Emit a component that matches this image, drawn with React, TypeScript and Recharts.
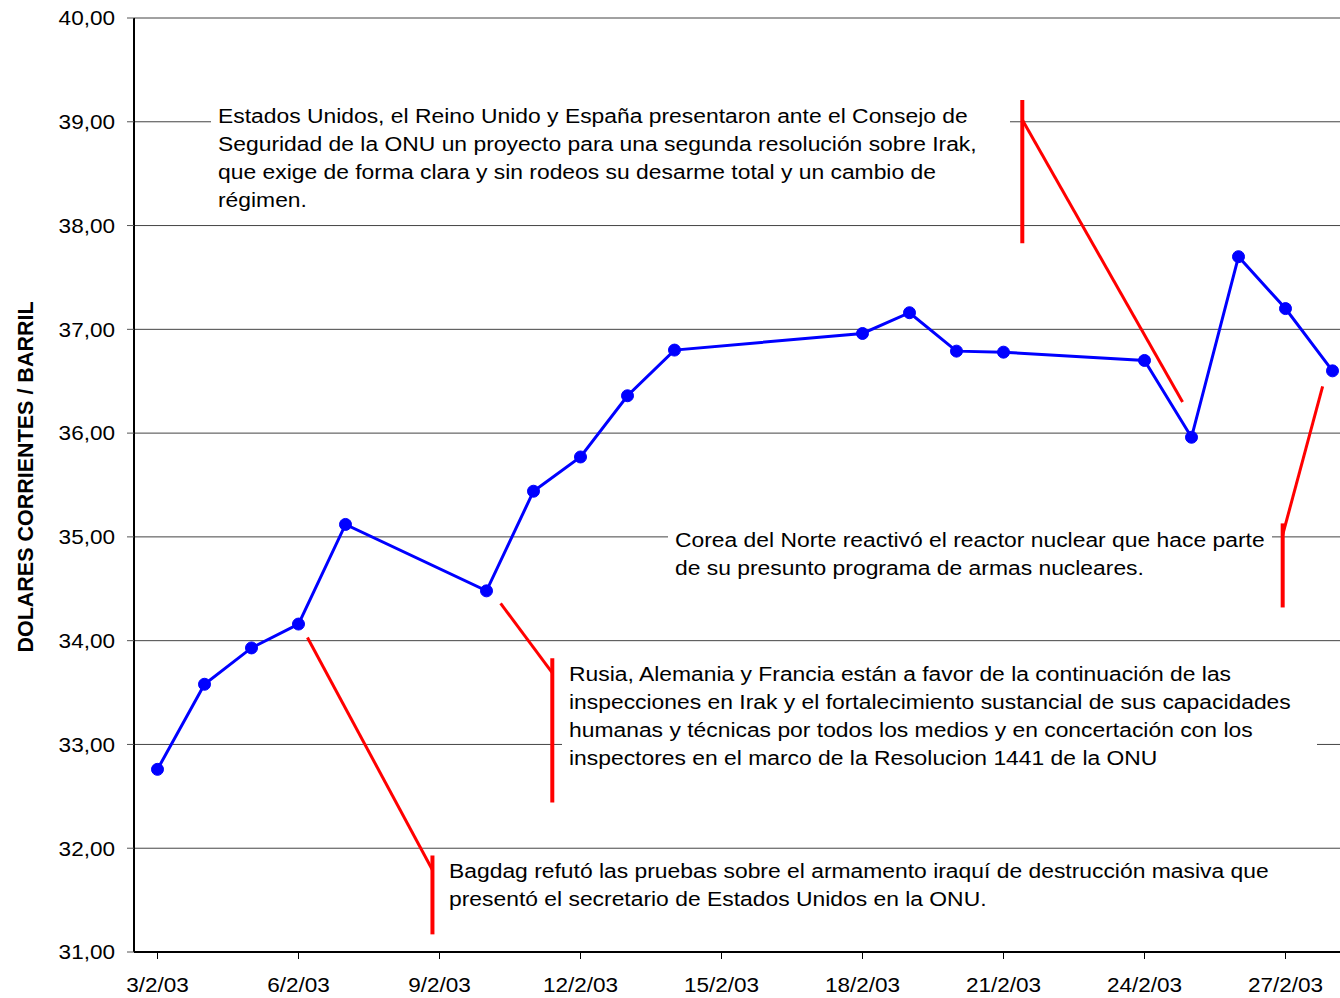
import React from 'react';
import { LineChart, Line, XAxis, YAxis, CartesianGrid, ReferenceLine } from 'recharts';

const days = [3, 4, 5, 6, 7, 10, 11, 12, 13, 14, 18, 19, 20, 21, 24, 25, 26, 27, 28];
const prices = [32.76, 33.58, 33.93, 34.16, 35.12, 34.48, 35.44, 35.77, 36.36, 36.8, 36.96, 37.16, 36.79, 36.78, 36.7, 35.96, 37.7, 37.2, 36.6];
const yTicks = [31, 32, 33, 34, 35, 36, 37, 38, 39, 40];
const xTicks = [3, 6, 9, 12, 15, 18, 21, 24, 27];
const yAxisTitle = 'DOLARES CORRIENTES / BARRIL';

const noteEEUU = [
  'Estados Unidos, el Reino Unido y España presentaron ante el Consejo de',
  'Seguridad de la ONU un proyecto para una segunda resolución sobre Irak,',
  'que exige de forma clara y sin rodeos su desarme total y un cambio de',
  'régimen.',
];
const noteCorea = [
  'Corea del Norte reactivó el reactor nuclear que hace parte',
  'de su presunto programa de armas nucleares.',
];
const noteRusia = [
  'Rusia, Alemania y Francia están a favor de la continuación de las',
  'inspecciones en Irak y el fortalecimiento sustancial de sus capacidades',
  'humanas y técnicas por todos los medios y en concertación con los',
  'inspectores en el marco de la Resolucion 1441 de la ONU',
];
const noteBagdag = [
  'Bagdag refutó las pruebas sobre el armamento iraquí de destrucción masiva que',
  'presentó el secretario de Estados Unidos en la ONU.',
];

// callout segments in data coordinates [x1, y1, x2, y2]
const calloutThick = [
  [8.85, 31.93, 8.85, 31.17],
  [11.4, 33.83, 11.4, 32.44],
  [21.4, 39.21, 21.4, 37.83],
  [26.94, 35.13, 26.94, 34.32],
];
const calloutThin = [
  [6.19, 34.03, 8.85, 31.79],
  [10.3, 34.36, 11.4, 33.69],
  [21.4, 39.02, 24.81, 36.3],
  [26.94, 35.02, 27.79, 36.45],
];

const data = days.map((d, i) => ({ day: d, price: prices[i] }));

const FONT = '"Liberation Sans", Arial, sans-serif';
const STRETCH = 1.143;

const Note = ({ lines, left, top, width }: { lines: string[]; left: number; top: number; width: number }) => (
  <div
    style={{
      position: 'absolute',
      left,
      top,
      width,
      background: '#fff',
      padding: '6px 7px 6px 7px',
      boxSizing: 'border-box',
      overflow: 'hidden',
    }}
  >
    <div
      style={{
        fontFamily: FONT,
        fontSize: 20,
        lineHeight: '28px',
        color: '#000',
        whiteSpace: 'pre',
        transform: `scaleX(${STRETCH})`,
        transformOrigin: '0 0',
      }}
    >
      {lines.join('\n')}
    </div>
  </div>
);

const XTick = (props: any) => {
  const { x, y, payload } = props;
  return (
    <g transform={`translate(${x},${y})`}>
      <text transform="scale(1.1,1)" textAnchor="middle" dy="0.71em" fontFamily={FONT} fontSize={20.5} fill="#000">
        {`${payload.value}/2/03`}
      </text>
    </g>
  );
};

const YTick = (props: any) => {
  const { x, y, payload } = props;
  return (
    <g transform={`translate(${x},${y})`}>
      <text transform="scale(1.1,1)" textAnchor="end" dy="0.355em" fontFamily={FONT} fontSize={20.5} fill="#000">
        {Number(payload.value).toFixed(2).replace('.', ',')}
      </text>
    </g>
  );
};

export default function App() {
  return (
    <div
      style={{
        position: 'absolute',
        left: 0,
        top: 0,
        width: 1340,
        height: 998,
        overflow: 'hidden',
        background: '#fff',
      }}
    >
      <LineChart width={1356} height={998} data={data} margin={{ top: 18, right: 0, left: 0, bottom: 0 }}>
        <CartesianGrid horizontal vertical={false} stroke="#444" strokeWidth={1} />
        <XAxis
          type="number"
          dataKey="day"
          domain={[2.5, 28.5]}
          ticks={xTicks}
          allowDataOverflow
          height={46}
          tickSize={7}
          tickMargin={18}
          axisLine={{ stroke: '#000', strokeWidth: 2 }}
          tickLine={{ stroke: '#000', strokeWidth: 1 }}
          tick={<XTick />}
        />
        <YAxis
          type="number"
          domain={[31, 40]}
          ticks={yTicks}
          width={134}
          tickSize={7}
          tickMargin={12}
          axisLine={{ stroke: '#000', strokeWidth: 2 }}
          tickLine={{ stroke: '#555', strokeWidth: 1 }}
          tick={<YTick />}
        />
        {calloutThin.map((s, i) => (
          <ReferenceLine
            key={'t' + i}
            segment={[{ x: s[0], y: s[1] }, { x: s[2], y: s[3] }]}
            stroke="#ff0000"
            strokeWidth={3}
            ifOverflow="visible"
          />
        ))}
        {calloutThick.map((s, i) => (
          <ReferenceLine
            key={'k' + i}
            segment={[{ x: s[0], y: s[1] }, { x: s[2], y: s[3] }]}
            stroke="#ff0000"
            strokeWidth={4}
            ifOverflow="visible"
          />
        ))}
        <Line
          type="linear"
          dataKey="price"
          stroke="#0000ff"
          strokeWidth={3}
          dot={{ r: 6, fill: '#0000ff', stroke: '#0000ff', strokeWidth: 1 }}
          isAnimationActive={false}
        />
      </LineChart>
      <Note lines={noteEEUU} left={211} top={96} width={799} />
      <Note lines={noteCorea} left={668} top={520} width={604} />
      <Note lines={noteRusia} left={562} top={654} width={755} />
      <Note lines={noteBagdag} left={442} top={851} width={898} />
      <svg style={{ position: 'absolute', left: 0, top: 0 }} width={60} height={998}>
        <text
          transform="translate(33,477) rotate(-90)"
          textAnchor="middle"
          fontFamily={FONT}
          fontWeight="bold"
          fontSize={21.5}
          fill="#000"
        >
          {yAxisTitle}
        </text>
      </svg>
    </div>
  );
}
